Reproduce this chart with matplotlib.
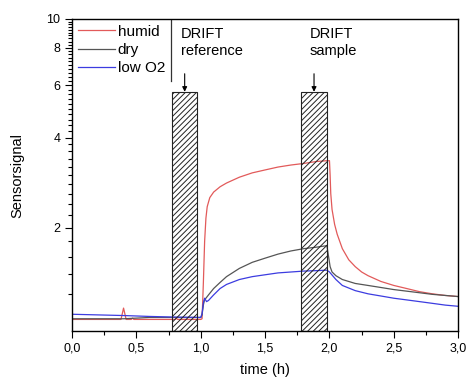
import numpy as np
import matplotlib
matplotlib.use('Agg')
import matplotlib.pyplot as plt
from matplotlib.ticker import FixedLocator, FuncFormatter, NullFormatter
from matplotlib.lines import Line2D

plt.rcParams['font.family'] = ['Liberation Sans', 'DejaVu Sans']
plt.rcParams['hatch.linewidth'] = 0.7

# humid
t_humid = [0.0, 0.38, 0.40, 0.42, 0.46, 0.47, 0.48, 0.80, 0.81, 0.82, 1.00, 1.01,
           1.02, 1.03, 1.04, 1.05, 1.07, 1.10, 1.15, 1.20, 1.30, 1.40, 1.50, 1.60,
           1.70, 1.80, 1.90, 1.98, 2.00, 2.005, 2.01, 2.02, 2.04, 2.06, 2.10, 2.15,
           2.20, 2.25, 2.30, 2.40, 2.50, 2.60, 2.70, 2.80, 2.90, 3.00]
humid = [0.985, 0.985, 1.075, 0.985, 0.985, 0.995, 0.985, 0.985, 0.993, 0.985, 0.985, 0.99,
         1.3, 1.8, 2.15, 2.35, 2.52, 2.63, 2.74, 2.82, 2.95, 3.05, 3.12, 3.19,
         3.24, 3.28, 3.33, 3.35, 3.35, 3.0, 2.6, 2.3, 2.05, 1.9, 1.70, 1.56,
         1.48, 1.42, 1.38, 1.32, 1.28, 1.25, 1.22, 1.20, 1.185, 1.175]

# dry
t_dry = [0.0, 0.4, 0.6, 1.00, 1.01, 1.02, 1.03, 1.04, 1.06, 1.10, 1.15, 1.20, 1.30,
         1.40, 1.50, 1.60, 1.70, 1.80, 1.90, 1.98, 2.005, 2.02, 2.05, 2.10, 2.20,
         2.30, 2.40, 2.50, 2.60, 2.70, 2.80, 2.90, 3.00]
dry = [0.99, 0.99, 1.0, 1.0, 1.02, 1.1, 1.15, 1.16, 1.19, 1.25, 1.31, 1.37, 1.46,
       1.53, 1.58, 1.63, 1.67, 1.70, 1.72, 1.74, 1.48, 1.42, 1.38, 1.34, 1.30,
       1.28, 1.26, 1.24, 1.225, 1.21, 1.195, 1.185, 1.175]

# low O2
t_low = [0.0, 0.2, 0.4, 0.6, 0.8, 1.00, 1.01, 1.02, 1.03, 1.045, 1.06, 1.10, 1.15,
         1.20, 1.30, 1.40, 1.50, 1.60, 1.70, 1.80, 1.90, 1.98, 2.00, 2.05, 2.10,
         2.20, 2.30, 2.40, 2.50, 2.60, 2.70, 2.80, 2.90, 3.00]
low_o2 = [1.025, 1.02, 1.015, 1.008, 1.003, 1.0, 1.03, 1.12, 1.16, 1.13, 1.14, 1.19, 1.25,
          1.29, 1.34, 1.37, 1.39, 1.41, 1.42, 1.43, 1.435, 1.44, 1.42, 1.34, 1.28,
          1.23, 1.20, 1.18, 1.16, 1.145, 1.13, 1.115, 1.10, 1.09]

# DRIFT measurement windows
drift_start = [0.78, 1.78]
drift_end = [0.97, 1.98]
drift_top = 5.7
drift_labels = ['DRIFT\nreference', 'DRIFT\nsample']

fig = plt.figure(figsize=(4.68, 3.78), dpi=100)
ax = fig.add_axes([0.154, 0.124, 0.825, 0.826])

ymin, ymax = 0.9, 10

ax.plot(t_humid, humid, color='#e25a5a', lw=0.9, label='humid')
ax.plot(t_dry, dry, color='#555555', lw=0.9, label='dry')
ax.plot(t_low, low_o2, color='#3c3ce0', lw=0.9, label='low O2')

for s, e, lab in zip(drift_start, drift_end, drift_labels):
    ax.bar((s + e) / 2, drift_top - ymin, width=e - s, bottom=ymin,
           facecolor='none', edgecolor='#222222', hatch='//////', lw=0.8, zorder=3)
    ax.text(s + 0.065, 9.4, lab, fontsize=10.5, va='top', ha='left', linespacing=1.3)
    ax.annotate('', xy=((s + e) / 2, drift_top), xytext=((s + e) / 2, 6.55),
                arrowprops=dict(arrowstyle='-|>', color='black', lw=0.8,
                                mutation_scale=7, shrinkA=0, shrinkB=0))

ax.set_yscale('log')
ax.set_xlim(0, 3)
ax.set_ylim(ymin, ymax)

ax.xaxis.set_major_locator(FixedLocator(np.arange(0, 3.01, 0.5)))
ax.xaxis.set_minor_locator(FixedLocator(np.arange(0.25, 3, 0.5)))
ax.xaxis.set_major_formatter(FuncFormatter(lambda v, p: ('%.1f' % v).replace('.', ',')))

ax.yaxis.set_major_locator(FixedLocator([2, 4, 6, 8, 10]))
ax.yaxis.set_minor_locator(FixedLocator([v for v in np.arange(1.2, 10, 0.2)
                                         if abs(v - round(v / 2) * 2) > 0.05]))
ax.yaxis.set_major_formatter(FuncFormatter(lambda v, p: '%d' % v))
ax.yaxis.set_minor_formatter(NullFormatter())

ax.tick_params(which='both', direction='out', labelsize=9, width=0.8, top=False, right=False)
ax.tick_params(which='major', length=5)
ax.tick_params(which='minor', length=3)
for sp in ax.spines.values():
    sp.set_linewidth(1.0)
    sp.set_zorder(7)

ax.set_xlabel('time (h)', fontsize=10.5, labelpad=6)
ax.set_ylabel('Sensorsignal', fontsize=10.5, labelpad=16)

leg = ax.legend(loc='upper left', bbox_to_anchor=(0, 1), borderaxespad=0,
                fontsize=11, handlelength=2.4, handletextpad=0.2,
                labelspacing=0.28, borderpad=0.38, fancybox=False, framealpha=1,
                edgecolor='none')
leg.set_zorder(5)

# right edge line of the legend box
fig.canvas.draw()
bb = leg.get_window_extent().transformed(ax.transAxes.inverted())
ax.add_line(Line2D([bb.x1, bb.x1], [bb.y0, 1], transform=ax.transAxes,
                   color='#333333', lw=0.9, zorder=6))

fig.savefig('out.png', dpi=100)
